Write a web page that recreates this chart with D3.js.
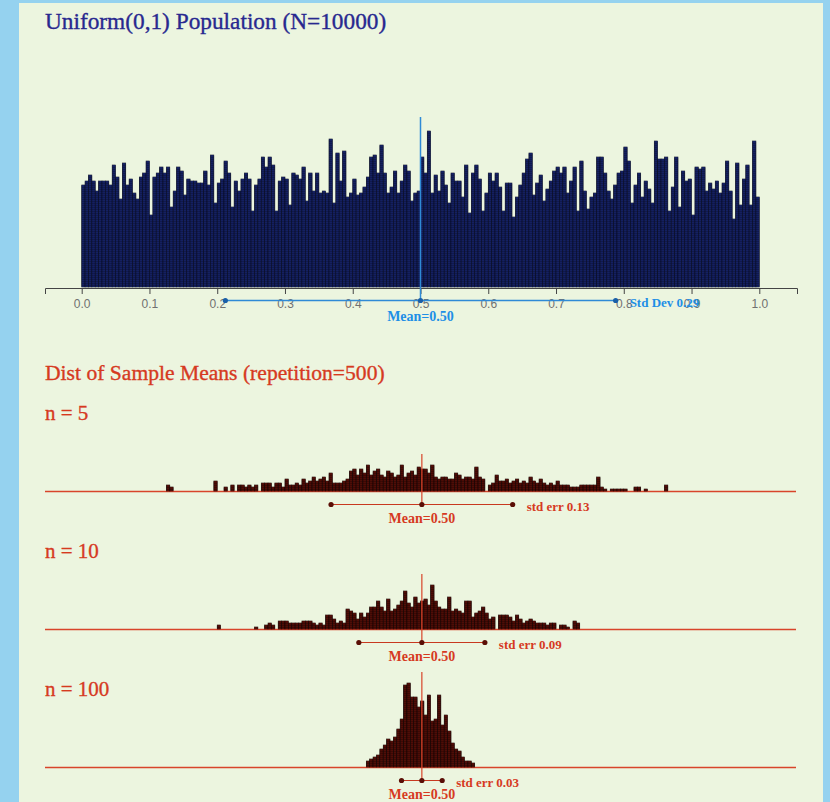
<!DOCTYPE html>
<html><head><meta charset="utf-8">
<script src="https://cdn.jsdelivr.net/npm/d3@7/dist/d3.min.js"></script>
<style>
html,body{margin:0;padding:0;background:#95d2ef;overflow:hidden;}
svg{display:block;}
</style></head><body>
<svg id="chart" width="830" height="802"></svg>
<script>
// ---------------- data ----------------
const popTitle = "Uniform(0,1) Population (N=10000)";
const sampleTitle = "Dist of Sample Means (repetition=500)";
const binWidth = 0.005;           // width of one stacking column in data units
const popCounts = [
  51,53,56,53,48,53,53,53,51,61, 55,44,62,51,54,47,44,55,57,63,
  36,55,57,60,57,60,40,48,60,58, 46,54,53,53,52,52,58,51,66,42,
  52,54,63,57,40,53,48,54,57,54, 38,51,54,65,60,65,61,38,53,55,
  54,41,57,56,54,60,43,57,48,57, 47,48,47,74,42,67,53,68,45,47,
  54,46,47,50,55,65,66,57,71,57, 47,50,58,47,53,61,58,43,47,48,
  65,57,78,47,56,48,58,51,42,57, 53,53,45,61,37,57,61,54,38,47,
  57,53,57,50,38,52,52,35,45,51, 57,64,67,46,52,56,43,49,53,58,
  60,57,60,47,53,60,38,63,48,39, 45,47,65,65,57,48,44,51,57,58,
  70,63,42,51,57,45,53,49,42,73, 64,64,65,38,50,65,40,58,53,54,
  36,60,59,60,48,52,49,53,47,52, 63,48,34,62,41,54,61,41,73,45
];
const popMean = 0.50;
const popSd = 0.288;
const tickValues = [0.0,0.1,0.2,0.3,0.4,0.5,0.6,0.7,0.8,0.9,1.0];

const sampleSizes = [5, 10, 100];
const sampleStartBins = [25, 40, 84];   // index of first column (x = index * binWidth)
const n5Counts = [
  3,2,0,0,0,0,0,0,0,0, 0,0,0,0,5,0,0,2,0,3, 0,3,3,2,3,2,3,0,4,4,
  4,2,4,4,2,6,3,3,4,3, 6,4,5,7,5,6,7,5,9,4, 4,4,5,6,10,11,8,11,9,13,
  8,10,11,8,7,10,9,7,8,13, 7,9,10,8,12,11,11,9,13,7, 6,7,7,6,6,9,8,6,7,7,
  6,12,7,6,0,3,4,8,5,5, 6,4,5,6,4,5,4,7,5,4, 6,4,3,4,3,5,3,3,3,2,
  2,2,3,3,3,3,3,7,2,1, 0,1,1,1,1,1,0,0,2,2, 0,1,0,0,0,0,0,3
];
const n10Counts = [
  2,0,0,0,0,0,0,0,0,0, 0,1,0,0,2,3,2,0,4,4, 4,3,3,3,3,4,4,4,3,2,
  3,2,7,7,5,3,4,3,10,9, 8,5,8,6,8,11,11,14,11,9, 15,9,10,12,14,19,13,11,16,13,
  14,15,12,22,14,11,10,10,16,9, 10,9,8,14,14,6,8,9,11,8, 5,6,0,7,7,7,6,4,7,5,
  3,4,5,4,3,3,3,2,3,3, 0,2,2,1,0,4,3
];
const n100Counts = [
  3,4,5,6,9,11,14,13,15,19, 24,41,42,35,35,30,33,26,36,23,
  24,36,21,26,18,12,9,8,5,3, 3,2
];
const sampleCounts = [n5Counts, n10Counts, n100Counts];
const sampleMeans = [0.502, 0.502, 0.502];
const sampleErrs = [0.134, 0.093, 0.030];

// ---------------- drawing ----------------
const svg = d3.select("#chart");
const W = 830, H = 802;
const serif = "'Liberation Serif','Times New Roman',Times,serif";
const sans = "'Liberation Sans',Arial,Helvetica,sans-serif";
const blue = "#2f8ad6", blueText = "#1e8fe6";
const red = "#d8442a", redText = "#d63a1f";

svg.append("rect").attr("x", 19).attr("y", 3).attr("width", 804).attr("height", H)
  .attr("fill", "#ecf5df");

const x = d3.scaleLinear().domain([0, 1]).range([81.7, 759.3]);
const axisX = x.copy().domain([x.invert(45), x.invert(797)]).range([45, 797]);
const dotH = 2;

function drawDots(g, startBin, counts, baseY, fill, stroke) {
  const y = d3.scaleLinear().domain([0, 1]).range([baseY, baseY - dotH]);
  const cells = [];
  counts.forEach((c, i) => {
    for (let j = 0; j < c; j++) cells.push({ bin: startBin + i, level: j });
  });
  g.selectAll("rect.dot").data(cells).join("rect")
    .attr("class", "dot")
    .attr("x", d => x(d.bin * binWidth))
    .attr("width", d => x((d.bin + 1) * binWidth) - x(d.bin * binWidth))
    .attr("y", d => y(d.level + 1))
    .attr("height", dotH)
    .attr("fill", fill)
    .attr("stroke", stroke)
    .attr("stroke-width", 0.6);
  return y;
}

function heading(sel, color) {
  return sel.attr("font-family", serif).attr("fill", color)
    .attr("stroke", color).attr("stroke-width", 0.35);
}

// ---- population ----
heading(svg.append("text").attr("x", 45).attr("y", 29).attr("font-size", 23.3), "#28288f")
  .text(popTitle);

const popBase = 287;
const gPop = svg.append("g");
const yPop = drawDots(gPop, 0, popCounts, popBase, "#1b2a7c", "#080c24");

const gAxis = svg.append("g").attr("transform", `translate(0,${popBase + 1})`)
  .call(d3.axisBottom(axisX).tickValues(tickValues).tickFormat(d3.format(".1f"))
    .tickSize(6).tickSizeOuter(6).tickPadding(5));
gAxis.select(".domain").attr("stroke", "#444");
gAxis.selectAll(".tick line").attr("stroke", "#444");
gAxis.selectAll(".tick text").attr("fill", "#707070").attr("font-family", sans).attr("font-size", 12);

const sdY = popBase + 13.5;
svg.append("line")
  .attr("x1", x(popMean)).attr("x2", x(popMean))
  .attr("y1", yPop(d3.max(popCounts)) - 14).attr("y2", sdY + 2)
  .attr("stroke", blue).attr("stroke-width", 1.5);
svg.append("line")
  .attr("x1", x(popMean - popSd)).attr("x2", x(popMean + popSd))
  .attr("y1", sdY).attr("y2", sdY)
  .attr("stroke", blue).attr("stroke-width", 1.5);
svg.selectAll("circle.popdot").data([popMean - popSd, popMean, popMean + popSd]).join("circle")
  .attr("class", "popdot").attr("cx", d => x(d)).attr("cy", sdY).attr("r", 2.6)
  .attr("fill", "#1a5fa8");
svg.append("text").attr("x", x(popMean + popSd) + 14).attr("y", sdY + 6)
  .attr("font-family", serif).attr("font-size", 13).attr("font-weight", "bold")
  .attr("fill", blueText).text("Std Dev " + popSd.toFixed(2));
svg.append("text").attr("x", x(popMean)).attr("y", popBase + 34).attr("text-anchor", "middle")
  .attr("font-family", serif).attr("font-size", 14).attr("font-weight", "bold")
  .attr("fill", blueText).text("Mean=" + popMean.toFixed(2));

// ---- sample means ----
heading(svg.append("text").attr("x", 45).attr("y", 380).attr("font-size", 21.6), redText)
  .text(sampleTitle);

const sampleBases = [491, 629, 767];
sampleSizes.forEach((n, s) => {
  const base = sampleBases[s];
  const g = svg.append("g");
  heading(g.append("text").attr("x", 45).attr("y", base - 71).attr("font-size", 21), redText)
    .text("n = " + n);
  g.append("line").attr("x1", 45).attr("x2", 796).attr("y1", base + 0.5).attr("y2", base + 0.5)
    .attr("stroke", red).attr("stroke-width", 1.3);
  const gd = g.append("g");
  const y = drawDots(gd, sampleStartBins[s], sampleCounts[s], base, "#68130b", "#140302");
  const m = sampleMeans[s], e = sampleErrs[s];
  const errY = base + 13.5;
  g.append("line").attr("x1", x(m)).attr("x2", x(m))
    .attr("y1", y(d3.max(sampleCounts[s])) - 11).attr("y2", errY + 2)
    .attr("stroke", red).attr("stroke-width", 1.2);
  g.append("line").attr("x1", x(m - e)).attr("x2", x(m + e))
    .attr("y1", errY).attr("y2", errY)
    .attr("stroke", "#c8391f").attr("stroke-width", 1.1);
  g.selectAll("circle").data([m - e, m, m + e]).join("circle")
    .attr("cx", d => x(d)).attr("cy", errY).attr("r", 2.6).attr("fill", "#5a0e06");
  g.append("text").attr("x", x(m + e) + 14).attr("y", base + 19.5)
    .attr("font-family", serif).attr("font-size", 13).attr("font-weight", "bold")
    .attr("fill", redText).text("std err " + e.toFixed(2));
  g.append("text").attr("x", x(m)).attr("y", base + 31.5).attr("text-anchor", "middle")
    .attr("font-family", serif).attr("font-size", 14).attr("font-weight", "bold")
    .attr("fill", redText).text("Mean=" + m.toFixed(2));
});
</script>
</body></html>
